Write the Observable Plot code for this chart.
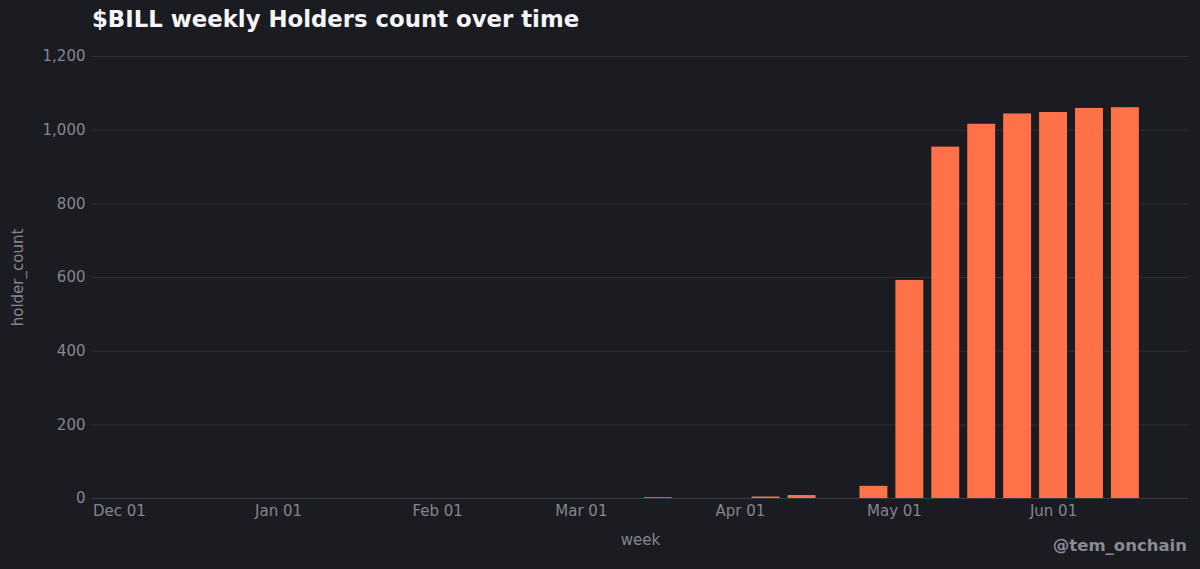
<!DOCTYPE html>
<html><head><meta charset="utf-8">
<script src="https://cdn.jsdelivr.net/npm/d3@7"></script>
<script src="https://cdn.jsdelivr.net/npm/@observablehq/plot@0.6"></script>
<style>
html,body{margin:0;padding:0;background:#1b1b22;}
#wrap{position:relative;width:1200px;height:569px;font-family:"DejaVu Sans",sans-serif;overflow:hidden;}
#title{position:absolute;left:92px;top:6px;font-size:22.8px;font-weight:bold;color:#f6f6f8;white-space:nowrap;}
#credit{position:absolute;right:13px;top:536px;font-size:16.5px;font-weight:bold;color:#8a8a94;white-space:nowrap;}
</style></head><body>
<div id="wrap"><div id="chart"></div><div id="title">$BILL weekly Holders count over time</div><div id="credit">@tem_onchain</div></div>
<script>
const weeks = ["2025-03-16","2025-04-06","2025-04-13","2025-04-27","2025-05-04","2025-05-11","2025-05-18","2025-05-25","2025-06-01","2025-06-08","2025-06-15"];
const holderCounts = [2,4,8,33,592,954,1016,1044,1048,1059,1061];
const yTicks = [0,200,400,600,800,1000,1200];
const xTickDates = ["2024-12-01","2025-01-01","2025-02-01","2025-03-01","2025-04-01","2025-05-01","2025-06-01"];
const xDomain = ["2024-11-25T18:00:00Z","2025-06-27T07:00:00Z"];

const data = weeks.map((w,i)=>({week:new Date(w+"T00:00:00Z"), holder_count:holderCounts[i]}));
const grid = "#2e2e37";
const txt = "#85858f";

const chart = Plot.plot({
  width:1200, height:569,
  marginLeft:92, marginRight:12, marginTop:56, marginBottom:71,
  style:{background:"transparent", color:txt, fontFamily:"DejaVu Sans, sans-serif", fontSize:"15px"},
  x:{type:"utc", domain:xDomain.map(d=>new Date(d))},
  y:{domain:[0,1200]},
  marks:[
    Plot.gridY(yTicks.slice(1),{stroke:grid, strokeOpacity:1}),
    Plot.ruleY([0],{stroke:"#3a3a44"}),
    Plot.rectY(data,{
      x1:d=>d3.utcHour.offset(d.week,-84),
      x2:d=>d3.utcHour.offset(d.week,84),
      y:"holder_count", fill:"#ff7149", insetLeft:4, insetRight:4
    }),
    Plot.axisY({ticks:yTicks, tickFormat:d3.format(","), tickSize:0, tickPadding:7, fontSize:15, label:"holder_count", labelAnchor:"center", labelArrow:"none", labelOffset:80, fill:txt}),
    Plot.axisX({ticks:xTickDates.map(d=>new Date(d+"T00:00:00Z")), tickFormat:d3.utcFormat("%b %d"), tickSize:0, tickPadding:7, fontSize:15, label:"week", labelAnchor:"center", labelArrow:"none", labelOffset:46, fill:txt})
  ]
});
document.getElementById("chart").appendChild(chart);
</script>
</body></html>
